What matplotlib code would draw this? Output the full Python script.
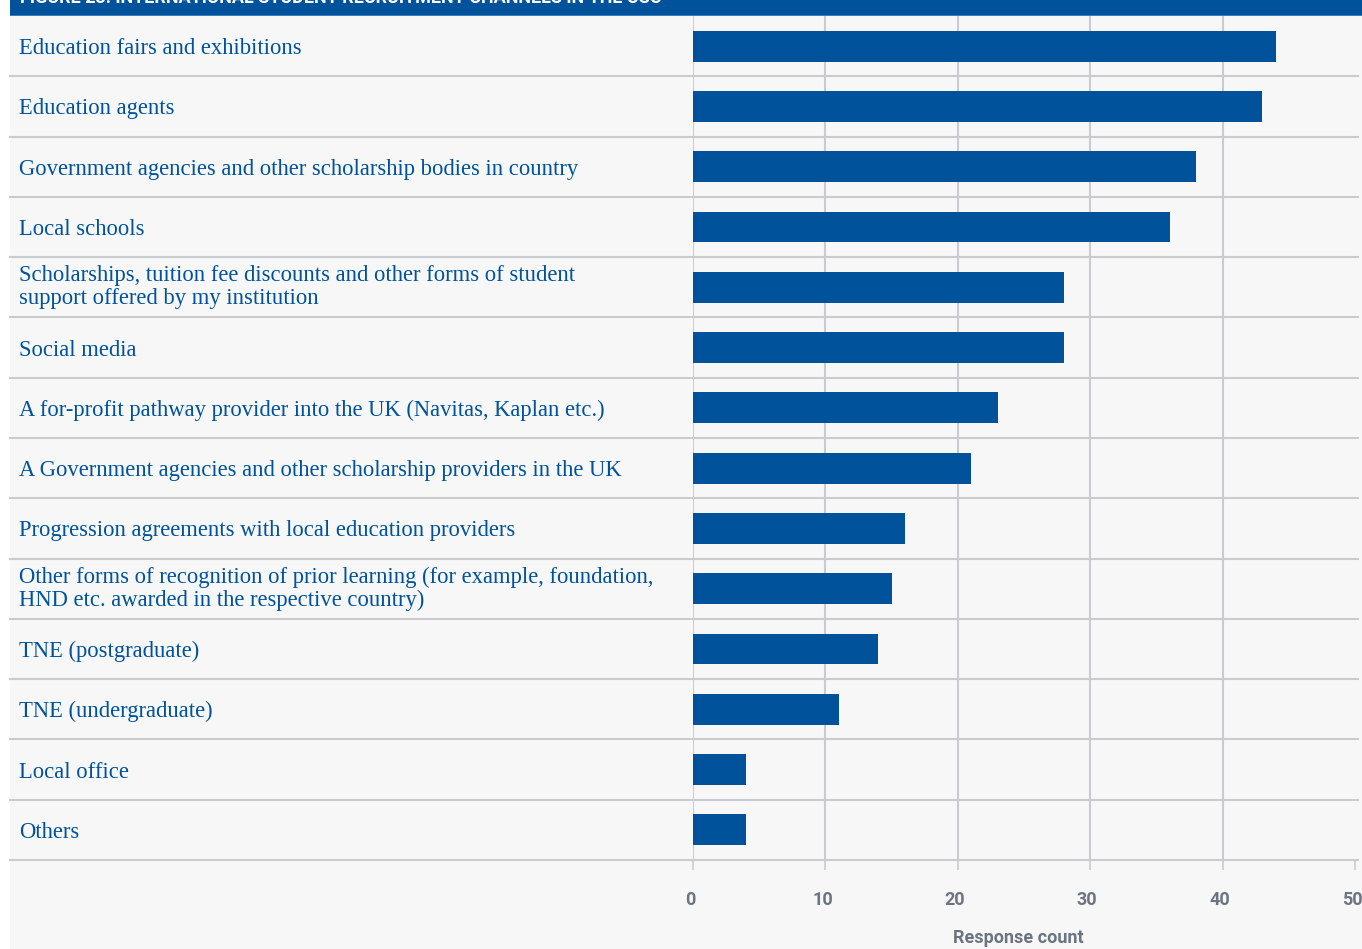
import matplotlib
matplotlib.use("Agg")
import matplotlib.pyplot as plt
from matplotlib.transforms import blended_transform_factory, ScaledTranslation
from matplotlib.patches import Rectangle

categories = [
    "Education fairs and exhibitions",
    "Education agents",
    "Government agencies and other scholarship bodies in country",
    "Local schools",
    "Scholarships, tuition fee discounts and other forms of student\nsupport offered by my institution",
    "Social media",
    "A for-profit pathway provider into the UK (Navitas, Kaplan etc.)",
    "A Government agencies and other scholarship providers in the UK",
    "Progression agreements with local education providers",
    "Other forms of recognition of prior learning (for example, foundation,\nHND etc. awarded in the respective country)",
    "TNE (postgraduate)",
    "TNE (undergraduate)",
    "Local office",
    "Others",
]
values = [44, 43, 38, 36, 28, 28, 23, 21, 16, 15, 14, 11, 4, 4]
xticks = [0, 10, 20, 30, 40, 50]
title = "FIGURE 23: INTERNATIONAL STUDENT RECRUITMENT CHANNELS IN THE USO"
xlabel = "Response count"

W, H = 1362, 949
BLUE = "#00529b"
BG = "#f7f7f7"
GRID = "#c9cbce"
TICKC = "#6b7480"
NARROW = ["Liberation Sans Narrow", "Roboto", "DejaVu Sans"]

fig = plt.figure(figsize=(W / 100, H / 100), dpi=100)
fig.patch.set_facecolor("white")

def fx(px):
    return px / W

def fy(py):
    return 1 - py / H

# panel background
fig.patches.append(Rectangle((fx(10), 0), fx(W - 10), fy(15), transform=fig.transFigure,
                             facecolor=BG, edgecolor="none", zorder=-2))
# title bar
fig.patches.append(Rectangle((fx(10), fy(15)), fx(W - 10), 15 / H, transform=fig.transFigure,
                             facecolor=BLUE, edgecolor="none", zorder=-1))
fig.patches.append(Rectangle((fx(10), fy(16)), fx(W - 10), 1.2 / H, transform=fig.transFigure,
                             facecolor="#3d7cc0", edgecolor="none", zorder=-1))
fig.text(fx(20), fy(3), title, color="white", fontsize=13, fontweight="bold",
         family=["Roboto", "DejaVu Sans"], va="baseline", ha="left")

ax_left, ax_right = 693, 1355
ax_top, ax_bot = 16, 860
ax = fig.add_axes([fx(ax_left), fy(ax_bot), fx(ax_right - ax_left), (ax_bot - ax_top) / H])
ax.set_facecolor("none")
ax.set_zorder(5)
n = len(categories)
ax.set_xlim(0, 50)
ax.set_ylim(n - 0.5, -0.5)

ypos = list(range(n))
ax.barh(ypos, values, height=0.51, color=BLUE, zorder=3, left=0)

for s in ax.spines.values():
    s.set_visible(False)
ax.set_yticks([])
ax.set_xticks(xticks)
ax.set_xticklabels([str(t) for t in xticks], fontsize=13, fontweight="bold", color=TICKC,
                   family=NARROW)
ax.tick_params(axis="x", length=7, width=1.2, color=GRID, pad=15)
shift = ScaledTranslation(-3 / 100, 0, fig.dpi_scale_trans)
for lbl in ax.get_xticklabels():
    lbl.set_transform(lbl.get_transform() + shift)

# vertical gridlines
for t in xticks[:-1]:
    ax.axvline(t, color=GRID, lw=1.5, zorder=1)

# row separator lines
left_frac = (10 - ax_left) / (ax_right - ax_left)
right_frac = (1358 - ax_left) / (ax_right - ax_left)
for i in range(n):
    ax.axhline(i + 0.5, xmin=left_frac, xmax=right_frac, color=GRID, lw=1.5,
               clip_on=False, zorder=2)

fig.text(fx(1018), fy(938), xlabel, fontsize=13, fontweight="bold", color=TICKC,
         family=NARROW, ha="center", va="center")

tr = blended_transform_factory(fig.transFigure, ax.transData)
for i, lab in enumerate(categories):
    ax.text(fx(19), i, lab, transform=tr, ha="left",
            va="center" if "\n" in lab else "center_baseline", color=BLUE,
            fontsize=16.3, family=["Liberation Serif", "DejaVu Serif"], linespacing=1.15,
            clip_on=False)

fig.savefig("out.png", dpi=100, facecolor=fig.get_facecolor())
